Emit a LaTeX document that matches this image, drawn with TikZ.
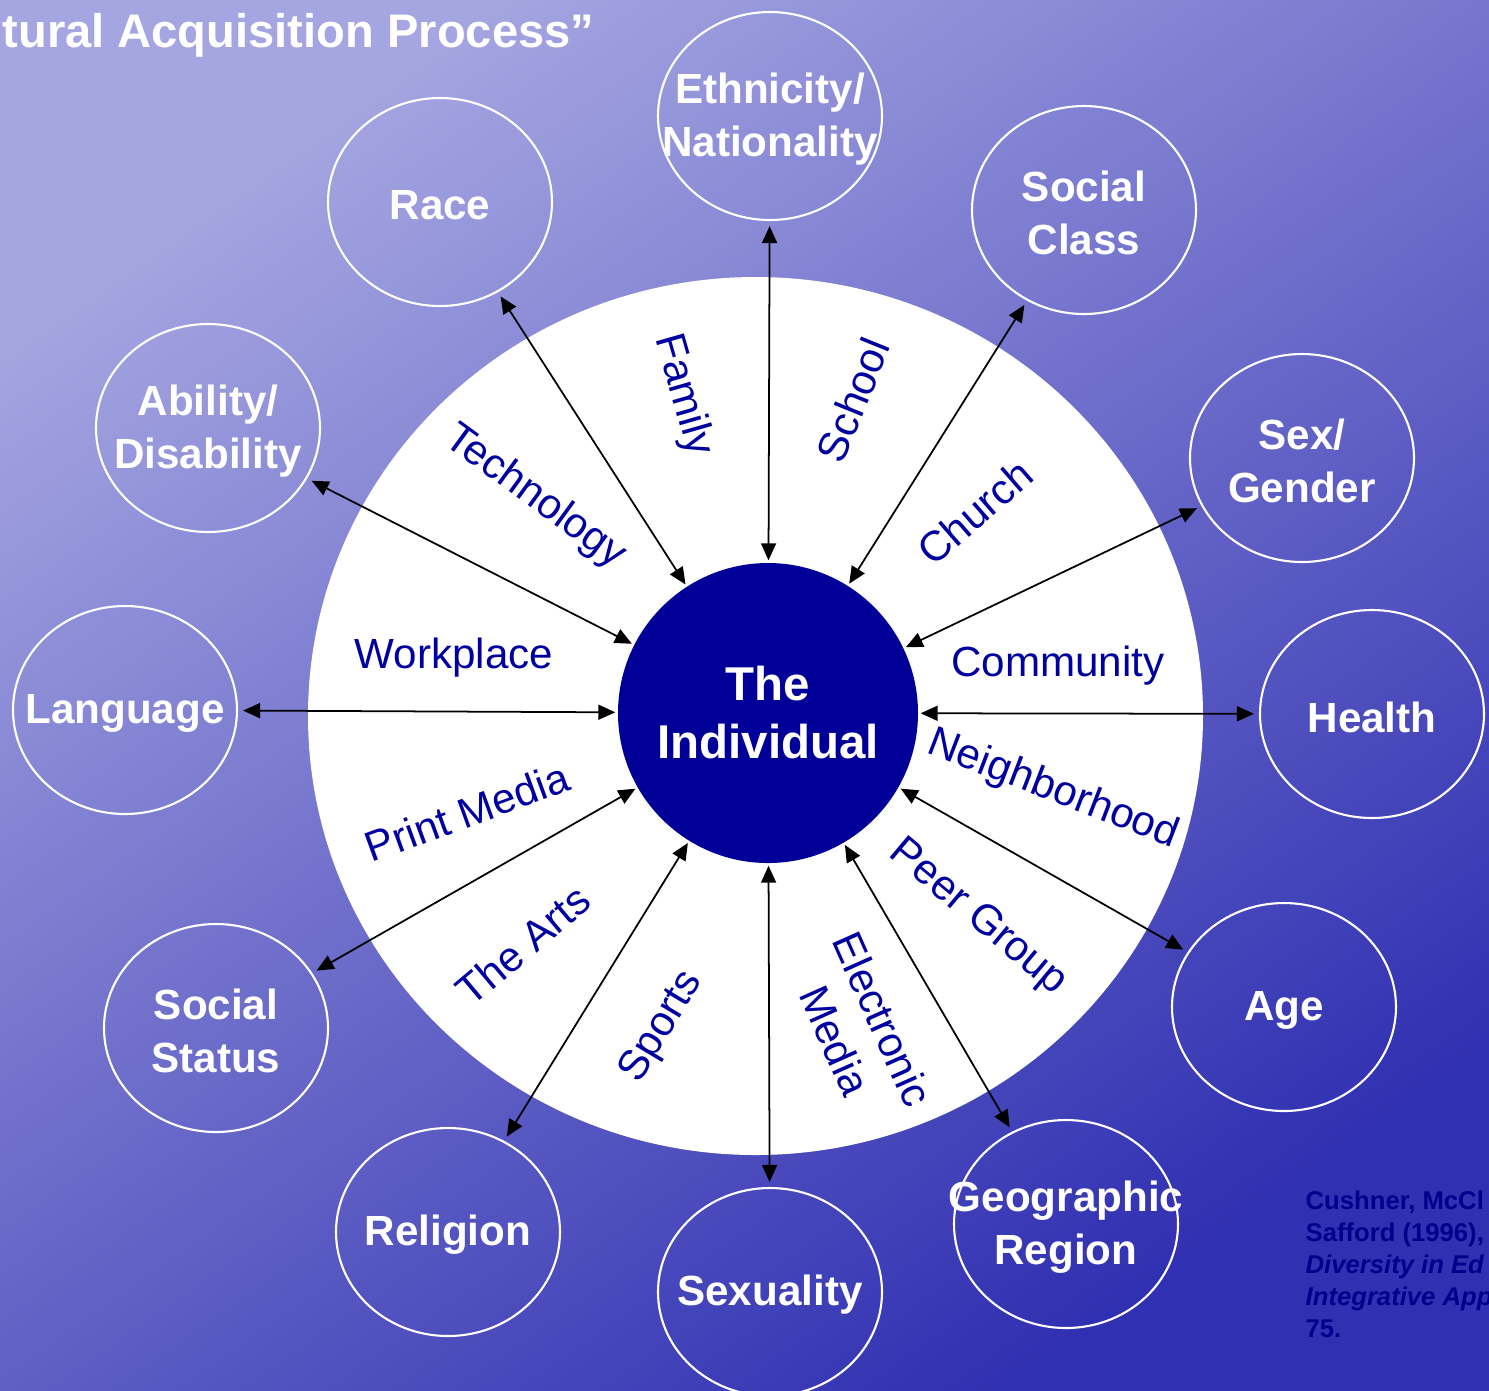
\documentclass[tikz,border=0pt]{standalone}
\usepackage{fontspec}
\setmainfont{Liberation Sans}
\usetikzlibrary{shapes.geometric, arrows.meta}

\definecolor{skytop}{RGB}{165,165,225}
\definecolor{skymid}{RGB}{100,100,200}
\definecolor{skybot}{RGB}{48,48,178}
\definecolor{indblue}{RGB}{0,0,153}
\definecolor{ringtext}{RGB}{0,0,160}
\definecolor{citeblue}{RGB}{0,0,140}

\tikzset{
  factor/.style={ellipse, draw=white, line width=0.6pt, minimum width=2.24cm,
    minimum height=2.08cm, inner sep=0pt},
  factortext/.style={text=white, font=\fontsize{12}{15.1}\selectfont\bfseries,
    align=center, inner sep=0pt, yshift=-0.03cm},
  ringlabel/.style={text=ringtext, font=\fontsize{12}{14.8}\selectfont,
    align=center, inner sep=0pt},
  conn/.style={{Triangle[length=0.17cm,width=0.15cm]}-{Triangle[length=0.17cm,width=0.15cm]},
    line width=0.5pt, shorten <=0.05cm, shorten >=0.02cm}
}

\begin{document}
\begin{tikzpicture}
  \useasboundingbox (0,0) rectangle (14.89,-13.90);
  \clip (0,0) rectangle (14.89,-13.90);

  % Sky background
  \shade[top color=skytop, middle color=skymid, bottom color=skybot, shading angle=35]
    (0,0) rectangle (14.89,-13.90);

  % Title (cut off at the left)
  \node[anchor=base west, inner sep=0pt, text=white,
    font=\fontsize{13.4}{15}\selectfont\bfseries] (title) at (0.02,-0.47)
    {tural Acquisition Process”};

  % White ring and the individual
  \fill[white] (7.555,-7.16) ellipse [x radius=4.475, y radius=4.39];
  \node[circle, fill=indblue, minimum size=3.0cm, inner sep=0pt, text=white,
    font=\fontsize{13.5}{16.5}\selectfont\bfseries, align=center]
    (ind) at (7.68,-7.13) {The\\Individual};

  % Outer factors
  \node[factor] (eth) at (7.70,-1.16) {};
  \node[factor] (race) at (4.40,-2.02) {};
  \node[factor] (sclass) at (10.84,-2.10) {};
  \node[factor] (abil) at (2.08,-4.28) {};
  \node[factor] (sex) at (13.02,-4.58) {};
  \node[factor] (lang) at (1.25,-7.10) {};
  \node[factor] (health) at (13.72,-7.14) {};
  \node[factor] (sstat) at (2.16,-10.28) {};
  \node[factor] (age) at (12.84,-10.07) {};
  \node[factor] (rel) at (4.48,-12.32) {};
  \node[factor] (sexu) at (7.70,-12.92) {};
  \node[factor] (geo) at (10.66,-12.24) {};

  \node[factortext] (eth-t) at (eth) {Ethnicity/\\Nationality};
  \node[factortext] (race-t) at (race) {Race};
  \node[factortext] (sclass-t) at (sclass) {Social\\Class};
  \node[factortext] (abil-t) at (abil) {Ability/\\Disability};
  \node[factortext] (sex-t) at (sex) {Sex/\\Gender};
  \node[factortext] (lang-t) at (lang) {Language};
  \node[factortext] (health-t) at (health) {Health};
  \node[factortext] (sstat-t) at (sstat) {Social\\Status};
  \node[factortext] (age-t) at (age) {Age};
  \node[factortext] (rel-t) at (rel) {Religion};
  \node[factortext] (sexu-t) at (sexu) {Sexuality};
  \node[factortext] (geo-t) at (geo) {Geographic\\Region};

  % Arrows between factors and the individual
  \foreach \f in {eth, race, sclass, abil, sex, lang, health, sstat, age, rel, sexu, geo} {
    \draw[conn] (\f) -- (ind);
  }

  % Labels on the ring
  \node[ringlabel, rotate=-74] (family) at (6.83,-3.95) {Family};
  \node[ringlabel, rotate=68] (school) at (8.53,-4.00) {School};
  \node[ringlabel, rotate=-36] (tech) at (5.35,-4.97) {Technology};
  \node[ringlabel, rotate=41] (church) at (9.75,-5.12) {Church};
  \node[ringlabel] (work) at (4.54,-6.58) {Workplace};
  \node[ringlabel] (comm) at (10.58,-6.66) {Community};
  \node[ringlabel, rotate=20] (print) at (4.67,-8.12) {Print Media};
  \node[ringlabel, rotate=-21] (neigh) at (10.53,-7.90) {Neighborhood};
  \node[ringlabel, rotate=40] (arts) at (5.23,-9.45) {The Arts};
  \node[ringlabel, rotate=-40] (peer) at (9.78,-9.18) {Peer Group};
  \node[ringlabel, rotate=59] (sports) at (6.62,-10.27) {Sports};
  \node[ringlabel, rotate=-66] (emedia) at (8.59,-10.30) {Electronic\\Media};

  % Source note (cut off at the right)
  \node[anchor=base west, inner sep=0pt, text=citeblue, align=left,
    font=\fontsize{7.3}{9.1}\selectfont\bfseries] (cite) at (13.05,-13.37)
    {Cushner, McCl\\Safford (1996),\\\textit{Diversity in Ed}\\\textit{Integrative App}\\75.};
\end{tikzpicture}
\end{document}
